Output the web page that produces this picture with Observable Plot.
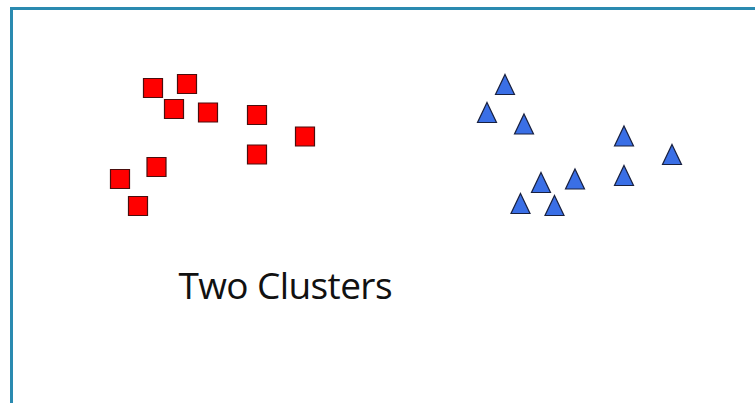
<!DOCTYPE html>
<html>
<head>
<meta charset="utf-8">
<script src="https://cdn.jsdelivr.net/npm/d3@7"></script>
<script src="https://cdn.jsdelivr.net/npm/@observablehq/plot@0.6"></script>
<style>
  html, body { margin: 0; padding: 0; background: #fff; }
  #wrap { position: relative; width: 755px; height: 403px; overflow: hidden; }
  #frame { position: absolute; left: 10px; top: 7px; width: 800px; height: 450px;
           border-top: 3px solid #2a8ab0; border-left: 3px solid #2a8ab0; box-sizing: border-box; }
  #wrap svg { position: absolute; left: 0; top: 0; }
  #wrap svg text { letter-spacing: -0.6px; }
</style>
</head>
<body>
<div id="wrap"><div id="frame"></div></div>
<script>
// Cluster A (red squares)
const squaresX = [152.5, 186.5, 173.5, 207.5, 256.5, 304.5, 256.5, 156, 119.5, 137.5];
const squaresY = [87.5, 83.5, 108.5, 112, 114.5, 136, 154, 166.5, 178.5, 205.5];
// Cluster B (blue triangles)
const trianglesX = [504.5, 486.5, 523.5, 623.5, 671.5, 623.5, 574.5, 540.5, 520, 554];
const trianglesY = [84, 112, 123.5, 135.5, 154, 175, 178.5, 182, 203, 205];
const title = ["Two Clusters"];

const squares = squaresX.map((x, i) => ({x, y: squaresY[i]}));
const triangles = trianglesX.map((x, i) => ({x, y: trianglesY[i]}));

const squareSym = {draw(ctx, size) { const r = Math.sqrt(size / Math.PI); ctx.rect(-r, -r, 2 * r, 2 * r); }};
const triSym = {draw(ctx, size) { const r = Math.sqrt(size / Math.PI);
  ctx.moveTo(0, -r); ctx.lineTo(0.95 * r, r); ctx.lineTo(-0.95 * r, r); ctx.closePath(); }};

const chart = Plot.plot({
  width: 755, height: 403, margin: 0,
  style: {background: "transparent", overflow: "visible"},
  x: {domain: [0, 755], axis: null},
  y: {domain: [0, 403], reverse: true, axis: null},
  marks: [
    Plot.dot(squares, {x: "x", y: "y", symbol: squareSym, r: 9.5, fill: "#ff0000", stroke: "#4a0e0e", strokeWidth: 1.2}),
    Plot.dot(triangles, {x: "x", y: "y", symbol: triSym, r: 10, fill: "#3a6fe6", stroke: "#18203f", strokeWidth: 1.2}),
    Plot.text(title, {frameAnchor: "top-left", dx: 178, dy: 298, text: d => d, textAnchor: "start", lineAnchor: "bottom",
      fontSize: 37, fontFamily: "Open Sans", fill: "#111"})
  ]
});
document.getElementById("wrap").appendChild(chart);
</script>
</body>
</html>
